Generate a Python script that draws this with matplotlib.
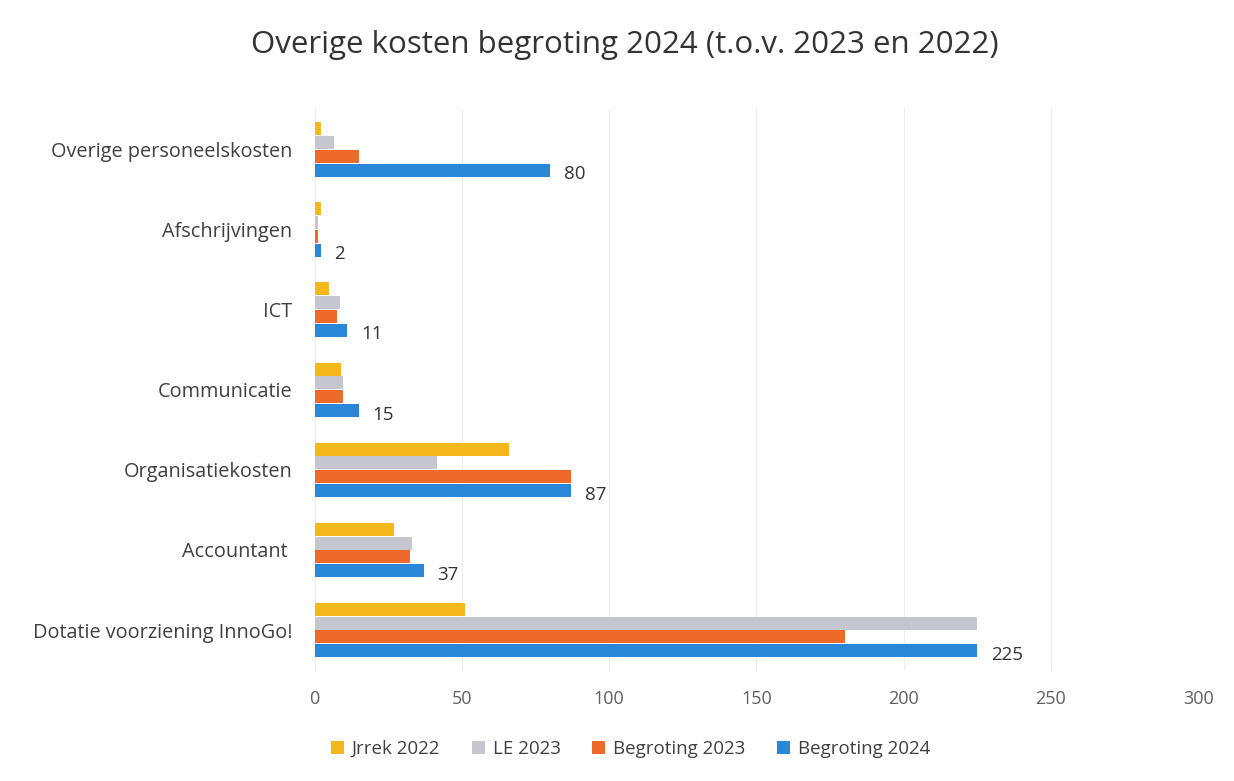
import matplotlib
matplotlib.use("Agg")
import matplotlib.pyplot as plt
import numpy as np
from matplotlib.patches import Patch

categories = ["Overige personeelskosten", "Afschrijvingen", "ICT", "Communicatie",
              "Organisatiekosten", "Accountant ", "Dotatie voorziening InnoGo!"]
series_names = ["Jrrek 2022", "LE 2023", "Begroting 2023", "Begroting 2024"]
jrrek_2022 = [2, 2, 5, 9, 66, 27, 51]
le_2023 = [6.5, 1, 8.5, 9.5, 41.5, 33, 225]
begroting_2023 = [15, 1, 7.5, 9.5, 87, 32.5, 180]
begroting_2024 = [80, 2, 11, 15, 87, 37, 225]
colors = ["#F6B71D", "#C6C6CE", "#EE6A2A", "#2A87D8"]
xticks = [0, 50, 100, 150, 200, 250, 300]

plt.rcParams['font.family'] = ['Open Sans', 'DejaVu Sans']
fig = plt.figure(figsize=(12.34, 7.81), dpi=100)
ax = fig.add_axes([0.255, 0.142, 0.716, 0.718])

series = [jrrek_2022, le_2023, begroting_2023, begroting_2024]
n = len(categories)
y = np.arange(n)
h = 0.172
offsets = [-1.5 * h, -0.5 * h, 0.5 * h, 1.5 * h]
for vals, off, c, name in zip(series, offsets, colors, series_names):
    ax.barh(y + off, vals, height=h * 0.95, color=c, label=name, zorder=3)

for yi, v in zip(y, begroting_2024):
    ax.annotate(f"{v:g}", (v, yi + offsets[3]), xytext=(10, -3), textcoords="offset points",
                va="center", ha="left", fontsize=13.5, color="#333333")

ax.set_xlim(0, 300)
ax.set_ylim(n - 0.5, -0.5)
ax.set_yticks(y)
ax.set_yticklabels(categories, fontsize=14.3, color="#404040")
ax.set_xticks(xticks)
ax.set_xticklabels([str(t) for t in xticks], fontsize=13, color="#606060")
ax.tick_params(axis='both', length=0)
ax.tick_params(axis='y', pad=16)
ax.tick_params(axis='x', pad=14)
ax.grid(axis='x', color="#EDEDED", linewidth=0.8, zorder=0)
for s in ax.spines.values():
    s.set_visible(False)

fig.suptitle("Overige kosten begroting 2024 (t.o.v. 2023 en 2022)", x=0.506, y=0.962,
             fontsize=22.5, color="#333333")

handles = [Patch(facecolor=c, edgecolor='none') for c in colors]
fig.legend(handles, series_names, loc="center", bbox_to_anchor=(0.511, 0.041), ncol=4,
           frameon=False, fontsize=13.5, handlelength=0.7, handleheight=0.7,
           handletextpad=0.4, columnspacing=1.7, labelcolor="#404040")

fig.savefig("out.png", dpi=100)
